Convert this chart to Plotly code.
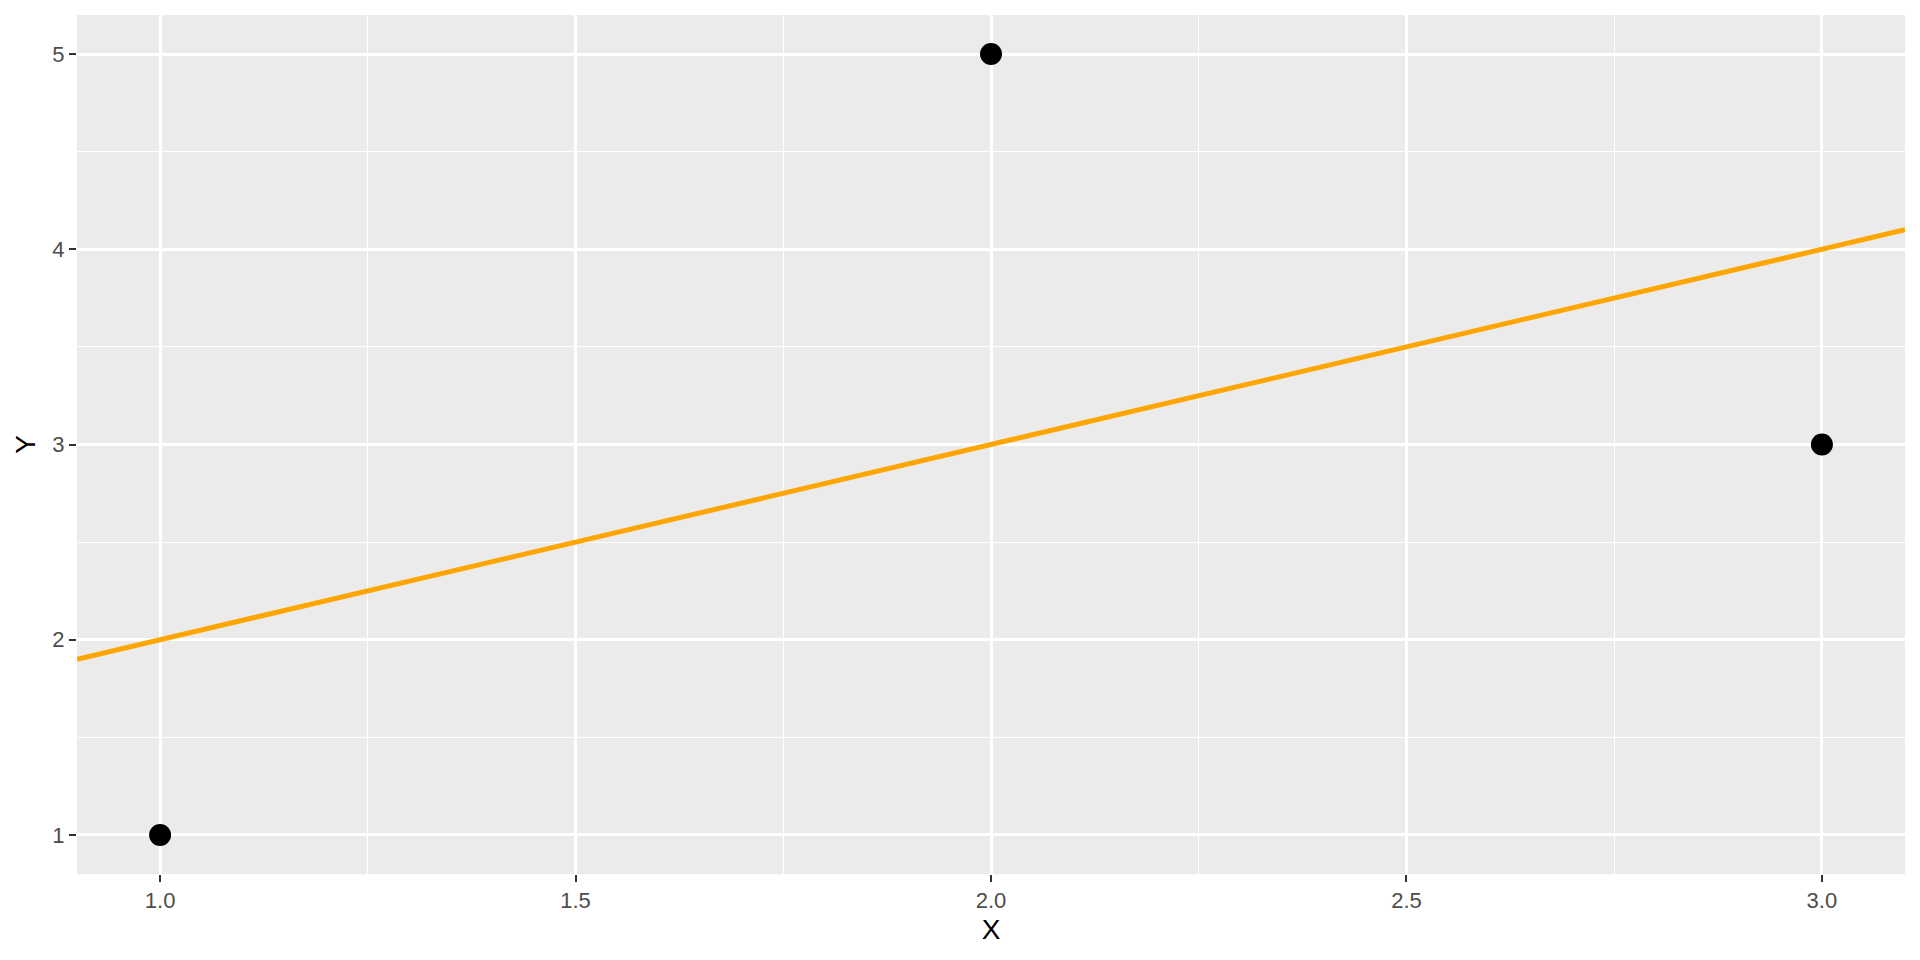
import numpy as np
import plotly.graph_objects as go

# Data
x_points = [1, 2, 3]
y_points = [1, 5, 3]
x_range = [0.9, 3.1]
y_range = [0.8, 5.2]
x_ticks = [1.0, 1.5, 2.0, 2.5, 3.0]
x_ticklabels = ["1.0", "1.5", "2.0", "2.5", "3.0"]
y_ticks = [1, 2, 3, 4, 5]
y_ticklabels = ["1", "2", "3", "4", "5"]

# Linear fit (full range)
slope, intercept = np.polyfit(x_points, y_points, 1)
line_x = np.linspace(x_range[0], x_range[1], 50)
line_y = slope * line_x + intercept

FONT = "Liberation Sans, Arial, sans-serif"

fig = go.Figure()
fig.add_trace(go.Scatter(x=line_x, y=line_y, mode="lines",
                         line=dict(color="#FFA500", width=5), showlegend=False))
fig.add_trace(go.Scatter(x=x_points, y=y_points, mode="markers",
                         marker=dict(color="black", size=22), showlegend=False))

axis_common = dict(
    showgrid=True, gridcolor="white", gridwidth=2.8,
    zeroline=False, showline=False, automargin=False,
    ticks="outside", ticklen=7, tickwidth=2.2, tickcolor="#333333",
    tickfont=dict(family=FONT, size=22, color="#4D4D4D"),
)

fig.update_xaxes(
    range=x_range, tickvals=x_ticks, ticktext=x_ticklabels,
    minor=dict(dtick=0.25, tick0=0.75, showgrid=True, gridcolor="white", gridwidth=1.4, ticks=""),
    title=dict(text="X", font=dict(family=FONT, size=28, color="black"), standoff=6),
    **axis_common,
)
fig.update_yaxes(
    range=y_range, tickvals=y_ticks, ticktext=y_ticklabels,
    minor=dict(dtick=0.5, tick0=0.5, showgrid=True, gridcolor="white", gridwidth=1.4, ticks=""),
    title=dict(text="Y", font=dict(family=FONT, size=28, color="black"), standoff=8),
    **axis_common,
)

# page body has an 8px margin; size the figure to fit inside the window
fig.update_layout(
    width=1904, height=944,
    paper_bgcolor="white", plot_bgcolor="#EBEBEB",
    margin=dict(l=69, r=7, t=7, b=78),
    showlegend=False,
)

fig.write_html("out.html")
